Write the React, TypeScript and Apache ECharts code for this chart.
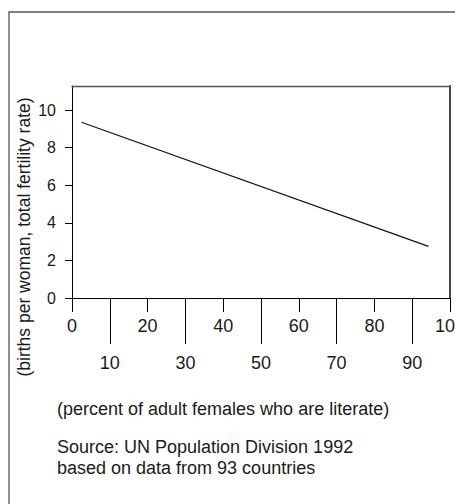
import React, { useEffect, useRef } from "react";
import * as echarts from "echarts";

// Fitted line endpoints (percent literate, births per woman)
const literacyPct = [2.5, 94.3];
const fertilityRate = [9.35, 2.75];

const yTickValues = [0, 2, 4, 6, 8, 10];
const xUpperTicks = [0, 20, 40, 60, 80, 100];
const xLowerTicks = [10, 30, 50, 70, 90];

const yAxisTitle = "(births per woman, total fertility rate)";
const xAxisTitle = "(percent of adult females who are literate)";
const sourceLines = ["Source: UN Population Division 1992", "based on data from 93 countries"];

const FONT = "'Liberation Sans', Arial, Helvetica, sans-serif";
const INK = "#1a1a1a";

export default function App() {
  const ref = useRef<HTMLDivElement>(null);

  useEffect(() => {
    if (!ref.current) return;
    const chart = echarts.init(ref.current, null, { renderer: "svg" });
    const lineData = literacyPct.map((x, i) => [x, fertilityRate[i]]);

    const option: any = {
      animation: false,
      backgroundColor: "#ffffff",
      textStyle: { fontFamily: FONT },
      grid: {
        left: 72,
        top: 86,
        right: 5,
        bottom: 206,
        outerBoundsMode: "none",
        containLabel: false,
      },
      xAxis: [
        {
          type: "value",
          min: 0,
          max: 100,
          position: "bottom",
          splitLine: { show: false },
          axisLine: { show: true, onZero: false, lineStyle: { color: "#000", width: 1 } },
          axisTick: { show: true, length: 14, customValues: xUpperTicks, lineStyle: { color: "#000", width: 1 } },
          axisLabel: {
            customValues: xUpperTicks,
            fontSize: 18,
            margin: 19,
            color: INK,
            fontFamily: FONT,
            hideOverlap: false,
          },
        },
        {
          type: "value",
          min: 0,
          max: 100,
          position: "bottom",
          splitLine: { show: false },
          axisLine: { show: false, onZero: false },
          axisTick: { show: true, length: 46, customValues: xLowerTicks, lineStyle: { color: "#000", width: 1 } },
          axisLabel: {
            customValues: xLowerTicks,
            fontSize: 18,
            margin: 56,
            color: INK,
            fontFamily: FONT,
            hideOverlap: false,
          },
        },
        {
          type: "value",
          min: 0,
          max: 100,
          position: "top",
          splitLine: { show: false },
          axisLine: { show: true, onZero: false, lineStyle: { color: "#555", width: 1.3 } },
          axisTick: { show: false },
          axisLabel: { show: false },
        },
      ],
      yAxis: [
        {
          type: "value",
          min: 0,
          max: 11.28,
          position: "left",
          splitLine: { show: false },
          axisLine: { show: true, onZero: false, lineStyle: { color: "#000", width: 1 } },
          axisTick: { show: true, length: 7, customValues: yTickValues, lineStyle: { color: "#000", width: 1 } },
          axisLabel: {
            customValues: yTickValues,
            fontSize: 16,
            margin: 16,
            color: INK,
            fontFamily: FONT,
            hideOverlap: false,
          },
        },
        {
          type: "value",
          min: 0,
          max: 11.28,
          position: "right",
          splitLine: { show: false },
          axisLine: { show: true, onZero: false, lineStyle: { color: "#444", width: 2 } },
          axisTick: { show: false },
          axisLabel: { show: false },
        },
      ],
      series: [
        {
          type: "line",
          xAxisIndex: 0,
          yAxisIndex: 0,
          data: lineData,
          showSymbol: false,
          symbol: "none",
          lineStyle: { color: "#111", width: 1.2 },
          z: 3,
        },
      ],
      graphic: [
        {
          type: "rect",
          shape: { x: 9, y: 12, width: 600, height: 600 },
          style: { fill: "none", stroke: "#555", lineWidth: 1.3 },
          silent: true,
          z: 0,
        },
        {
          type: "text",
          x: 24,
          y: 237,
          rotation: Math.PI / 2,
          style: {
            text: yAxisTitle,
            fontSize: 17.5,
            fontFamily: FONT,
            fill: INK,
            align: "center",
            verticalAlign: "middle",
          },
        },
        {
          type: "text",
          x: 57,
          y: 409,
          style: {
            text: xAxisTitle,
            fontSize: 18,
            fontFamily: FONT,
            fill: INK,
            align: "left",
            verticalAlign: "middle",
          },
        },
        ...sourceLines.map((t, i) => ({
          type: "text",
          x: 57,
          y: 447 + i * 20.5,
          style: {
            text: t,
            fontSize: 18,
            fontFamily: FONT,
            fill: INK,
            align: "left",
            verticalAlign: "middle",
          },
        })),
      ],
    };

    chart.setOption(option);
    return () => chart.dispose();
  }, []);

  return (
    <div
      ref={ref}
      style={{ position: "absolute", left: 0, top: 0, width: 455, height: 504 }}
    />
  );
}
